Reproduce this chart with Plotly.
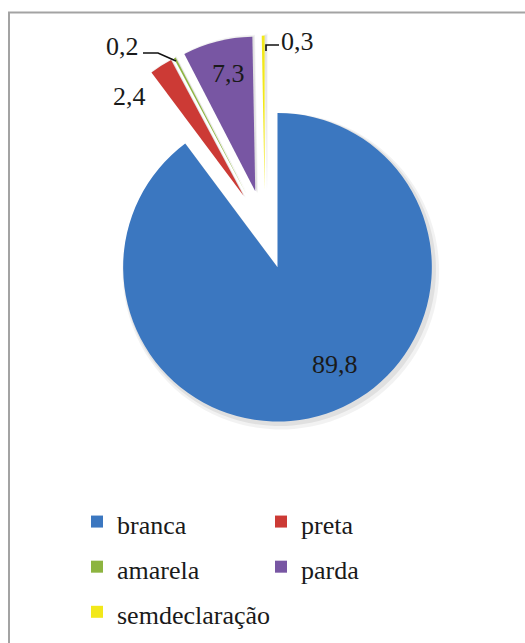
import plotly.graph_objects as go

# Population share by colour/race (%)
categories = ["branca", "preta", "amarela", "parda", "semdeclaração"]
shares = [89.8, 2.4, 0.2, 7.3, 0.3]
slice_colors = ["#3B77C0", "#CC3A35", "#8DB440", "#7856A3", "#F2E81A"]

W, H = 525, 643
SERIF = "Liberation Serif"
PULL = 0.257


def px(x, y):
    """Pixel position -> paper fraction."""
    return x / W, 1 - y / H


def fmt(v):
    return f"{v:.1f}".replace(".", ",")


def pie_domain(cx, cy, side):
    x0, y_top = px(cx - side / 2, cy - side / 2)
    x1, y_bot = px(cx + side / 2, cy + side / 2)
    return dict(x=[x0, x1], y=[y_bot, y_top])


# legend entries drawn in the body size, row height set by the legend font
legend_names = [f'<span style="font-size:26px">{c}</span>' for c in categories]

fig = go.Figure()

# soft drop shadow under the exploded slices
for grow, shift, alpha in [(10, 3, 0.05), (5, 2, 0.07)]:
    fig.add_trace(go.Pie(
        labels=legend_names, values=shares, sort=False,
        direction="clockwise", rotation=0, pull=[PULL] * len(shares),
        marker=dict(colors=[f"rgba(0,0,0,{alpha})"] * len(shares), line=dict(width=0)),
        textinfo="none", hoverinfo="skip", showlegend=False,
        domain=pie_domain(265 + shift, 229.6 + shift, 388 + grow),
    ))

# main pie: centre (265, 229.6) px, box side 388 px
fig.add_trace(go.Pie(
    labels=legend_names,
    values=shares,
    sort=False,
    direction="clockwise",
    rotation=0,
    pull=[PULL] * len(shares),
    marker=dict(colors=slice_colors, line=dict(width=0)),
    textinfo="none",
    hoverinfo="label+value",
    domain=pie_domain(265, 229.6, 388),
))

# value labels
label_pos = {
    "branca": (335, 364),
    "preta": (129, 97),
    "amarela": (122, 47),
    "parda": (228, 73),
    "semdeclaração": (297, 41),
}
for cat, val in zip(categories, shares):
    lx, ly = px(*label_pos[cat])
    fig.add_annotation(
        x=lx, y=ly, xref="paper", yref="paper",
        text=fmt(val), showarrow=False,
        font=dict(family=SERIF, size=26, color="#1a1a1a"),
        xanchor="center", yanchor="middle",
    )


def path(points):
    parts = []
    for i, (x, y) in enumerate(points):
        fx, fy = px(x, y)
        parts.append(("M" if i == 0 else "L") + f"{fx:.5f},{fy:.5f}")
    return " ".join(parts)


# leader lines for the thin slices
fig.add_shape(type="path", xref="paper", yref="paper",
              path=path([(143, 53), (158, 53), (176, 61)]),
              line=dict(color="#111111", width=1.6))
fig.add_shape(type="path", xref="paper", yref="paper",
              path=path([(266, 51), (266, 45), (279, 45)]),
              line=dict(color="#111111", width=1.6))
# chart frame
fx0, fy0 = px(9, 12.5)
fx1, fy1 = px(540, 660)
fig.add_shape(type="rect", xref="paper", yref="paper",
              x0=fx0, y0=fy1, x1=fx1, y1=fy0,
              line=dict(color="#A3A3A3", width=2))

lgx, lgy = px(77, 494)
fig.update_layout(
    width=W, height=H,
    margin=dict(l=0, r=0, t=0, b=0),
    paper_bgcolor="white",
    plot_bgcolor="white",
    showlegend=True,
    legend=dict(
        orientation="h",
        x=lgx, y=lgy, xanchor="left", yanchor="top",
        entrywidth=139, entrywidthmode="pixels",
        font=dict(family=SERIF, size=32.4, color="#1a1a1a"),
        bgcolor="rgba(0,0,0,0)",
        traceorder="normal",
    ),
)

fig.write_html("out.html")
